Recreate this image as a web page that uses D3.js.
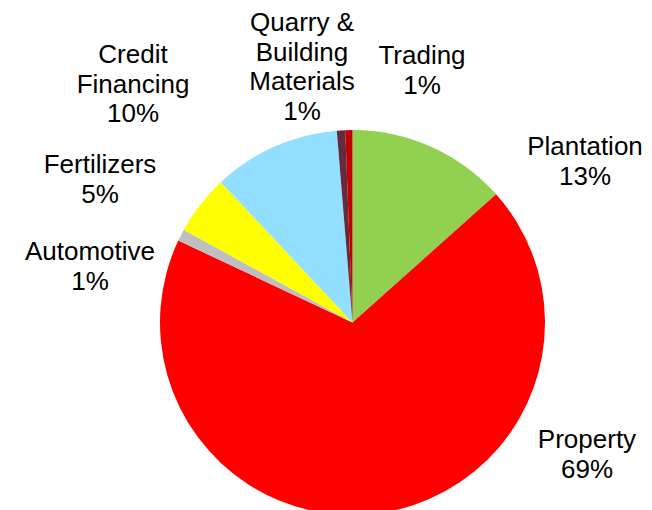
<!DOCTYPE html>
<html>
<head>
<meta charset="utf-8">
<script src="https://cdn.jsdelivr.net/npm/d3@7"></script>
<style>
  body { margin: 0; background: #fff; }
  text { font-family: "Liberation Sans", Arial, sans-serif; fill: #000; }
</style>
</head>
<body>
<script>
// segment data, clockwise from 12 o'clock
var segments = ["Plantation", "Property", "Automotive", "Fertilizers", "Credit Financing", "Quarry & Building Materials", "Trading"];
var shares = [13.4, 68.6, 1.0, 5.0, 10.7, 0.7, 0.6];
var pctLabels = ["13%", "69%", "1%", "5%", "10%", "1%", "1%"];
var labelLines = [["Plantation"], ["Property"], ["Automotive"], ["Fertilizers"], ["Credit", "Financing"], ["Quarry &", "Building", "Materials"], ["Trading"]];
var colors = ["#92D050", "#FF0000", "#BFBFBF", "#FFFF00", "#93DFFF", "#632B3B", "#C00000"];

var width = 652, height = 510;
var cx = 352.5, cy = 322.5, radius = 192.5;

// where each label block sits (center x, first baseline y)
var labelPos = [[585, 155], [587, 448], [90, 260], [100, 173], [133, 63], [302, 31], [422, 64]];
var lineH = 29.5;

var svg = d3.select("body")
    .append("svg")
    .attr("width", width)
    .attr("height", height);

var pie = d3.pie()
    .sort(null)
    .value(function(d) { return d; });

var arc = d3.arc()
    .innerRadius(0)
    .outerRadius(radius);

var g = svg.append("g")
    .attr("transform", "translate(" + cx + "," + cy + ")");

g.selectAll("path")
    .data(pie(shares))
    .enter().append("path")
    .attr("d", arc)
    .attr("fill", function(d, i) { return colors[i]; });

// labels
var lab = svg.append("g").selectAll("text")
    .data(segments)
    .enter().append("text")
    .attr("text-anchor", "middle")
    .attr("font-size", "26px")
    .attr("x", function(d, i) { return labelPos[i][0]; })
    .attr("y", function(d, i) { return labelPos[i][1]; });

lab.each(function(d, i) {
    var t = d3.select(this);
    var lines = labelLines[i].concat([pctLabels[i]]);
    lines.forEach(function(s, j) {
        t.append("tspan")
            .attr("x", labelPos[i][0])
            .attr("dy", j == 0 ? 0 : lineH)
            .text(s);
    });
});
</script>
</body>
</html>
